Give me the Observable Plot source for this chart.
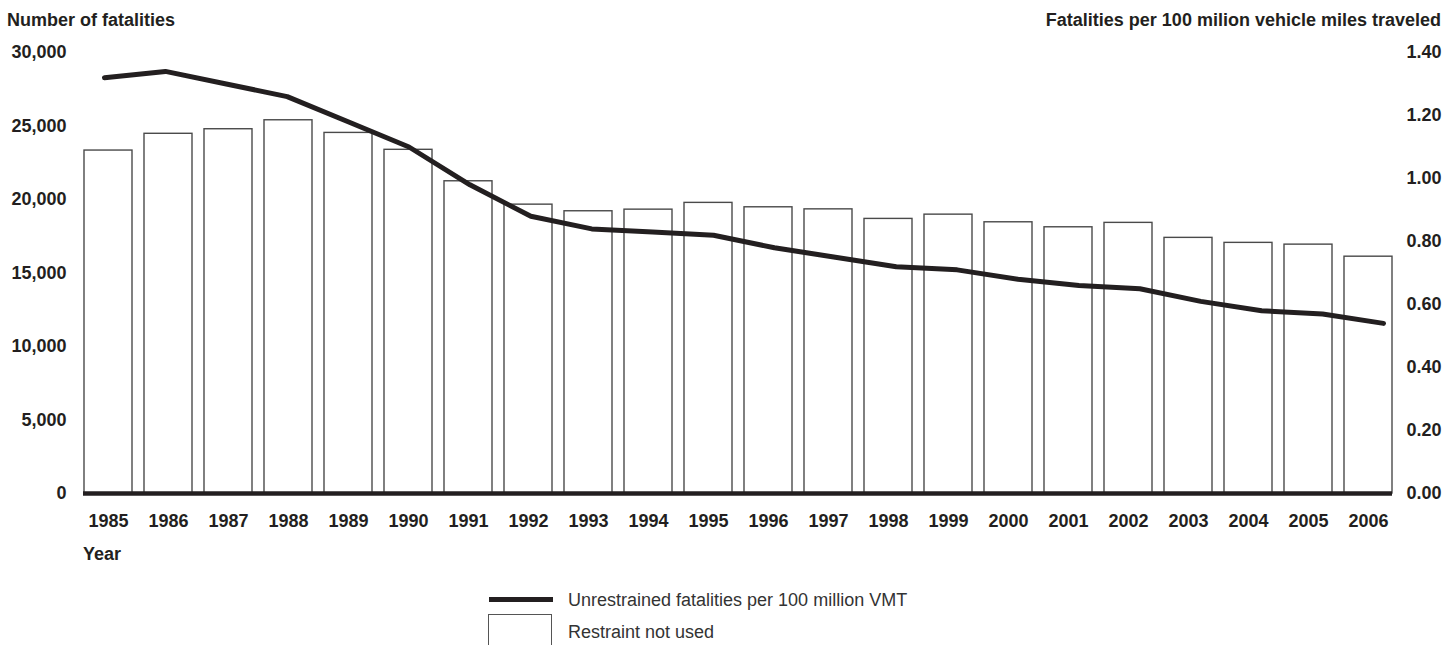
<!DOCTYPE html>
<html><head><meta charset="utf-8">
<script src="https://cdn.jsdelivr.net/npm/d3@7"></script>
<script src="https://cdn.jsdelivr.net/npm/@observablehq/plot@0.6"></script>
<style>
body{margin:0;background:#fff;}
#wrap{position:relative;width:1445px;height:645px;font-family:"Liberation Sans",Arial,Helvetica,sans-serif;color:#231f20;overflow:hidden;background:#fff}
#wrap svg{position:absolute;left:0;top:0}
.t{position:absolute;font-weight:bold;font-size:18px;line-height:20px;white-space:nowrap}
.l{position:absolute;font-size:18px;line-height:20px;white-space:nowrap;color:#333}
</style></head><body>
<div id="wrap">
<div class="t" style="left:7px;top:10px">Number of fatalities</div>
<div class="t" style="right:4px;top:10px">Fatalities per 100 milion vehicle miles traveled</div>
<div class="t" style="left:83px;top:544px">Year</div>
<div style="position:absolute;left:489px;top:597px;width:64px;height:5px;background:#231f20"></div>
<div class="l" style="left:568px;top:590px">Unrestrained fatalities per 100 million VMT</div>
<div style="position:absolute;left:488px;top:614px;width:64px;height:50px;border:1.3px solid #555;box-sizing:border-box"></div>
<div class="l" style="left:568px;top:622px">Restraint not used</div>
</div>
<script>
const years = [1985,1986,1987,1988,1989,1990,1991,1992,1993,1994,1995,1996,1997,1998,1999,2000,2001,2002,2003,2004,2005,2006];
const notUsed = [23330,24470,24780,25390,24530,23380,21240,19650,19200,19310,19770,19470,19330,18680,18970,18450,18110,18410,17390,17050,16930,16110];
const rate = [1.32,1.34,1.30,1.26,1.18,1.10,0.98,0.88,0.84,0.83,0.82,0.78,0.75,0.72,0.71,0.68,0.66,0.65,0.61,0.58,0.57,0.54];
const leftTicks = [0,5000,10000,15000,20000,25000,30000];
const rightTicks = [0,0.2,0.4,0.6,0.8,1.0,1.2,1.4];

const yMax = 30000, rMax = 1.4;
const bars = years.map((y,i)=>({year:y, value:notUsed[i]}));
const pts = years.map((y,i)=>({year:y, rate:rate[i]}));
const font = {fontFamily:'"Liberation Sans",Arial,Helvetica,sans-serif', fontSize:"18px", fontWeight:"bold", color:"#231f20", background:"transparent", overflow:"visible"};

const W = 1445, H = 540, mt = 52, mb = 47;
const main = Plot.plot({
  width: W, height: H,
  marginLeft: 83, marginRight: W - 1392, marginTop: mt, marginBottom: mb,
  style: font,
  x: {type:"band", domain: years, paddingInner: 0.2, paddingOuter: 0, label: null},
  y: {domain:[0, yMax], label: null},
  marks: [
    Plot.barY(bars, {x:"year", y:"value", fill:"white", stroke:"#4a4a4a", strokeWidth:1.4}),
    Plot.ruleY([0], {stroke:"#231f20", strokeWidth:4.5}),
    Plot.axisX({tickSize:0, tickPadding:21, tickFormat:d=>String(d), label:null, fill:"#231f20"}),
    Plot.axisY(leftTicks, {anchor:"left", tickSize:0, tickPadding:17, tickFormat:d3.format(","), label:null, fill:"#231f20"}),
    Plot.axisY(rightTicks.map(v=>v/rMax*yMax), {anchor:"right", tickSize:0, tickPadding:49, textAnchor:"end", tickFormat:d=>(d/yMax*rMax).toFixed(2), label:null, fill:"#231f20"})
  ]
});
const overlay = Plot.plot({
  width: W, height: H,
  marginLeft: 104, marginRight: W - 1383, marginTop: mt, marginBottom: mb,
  style: font,
  x: {domain:[1985,2006], axis:null},
  y: {domain:[0, rMax], axis:null},
  marks: [
    Plot.lineY(pts, {x:"year", y:"rate", stroke:"#231f20", strokeWidth:5, strokeLinejoin:"miter"})
  ]
});
const wrap = document.getElementById("wrap");
wrap.appendChild(main);
wrap.appendChild(overlay);
</script>
</body></html>
